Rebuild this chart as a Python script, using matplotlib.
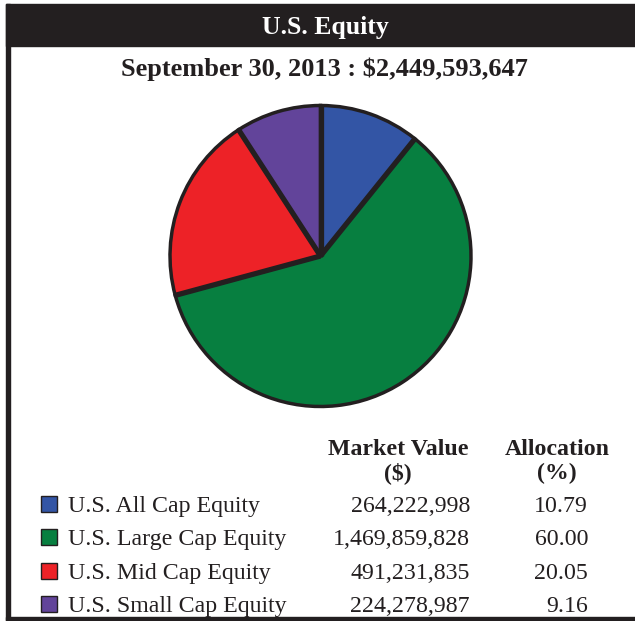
import numpy as np
import matplotlib.pyplot as plt
from matplotlib.patches import Rectangle

# data
segments = ["U.S. All Cap Equity", "U.S. Large Cap Equity",
            "U.S. Mid Cap Equity", "U.S. Small Cap Equity"]
market_values = ["264,222,998", "1,469,859,828", "491,231,835", "224,278,987"]
allocation = [10.79, 60.00, 20.05, 9.16]
colors = ["#3355a5", "#077f40", "#ed2227", "#62449a"]
title = "U.S. Equity"
subtitle = "September 30, 2013 : $2,449,593,647"

W, H = 635, 621
edge = "#231f20"
plt.rcParams["font.family"] = "Liberation Serif"

fig = plt.figure(figsize=(W / 100, H / 100), dpi=100)

# background axes in pixel coords
bg = fig.add_axes([0, 0, 1, 1])
bg.set_xlim(0, W)
bg.set_ylim(H, 0)
bg.axis("off")

# header bar + frame
bg.add_patch(Rectangle((6, 4), W - 6, 42, color=edge))
bg.add_patch(Rectangle((6, 4), 4, 617, color=edge))
bg.add_patch(Rectangle((6, 617), W - 6, 3, color=edge))
bg.text(325, 34, title, color="white", fontsize=18.5, fontweight="bold",
        ha="center", va="baseline")
bg.text(324, 76, subtitle, color=edge, fontsize=19, fontweight="bold",
        ha="center", va="baseline")

# pie
cx, cy, r = 320.5, 256, 152
ax = fig.add_axes([(cx - r) / W, (H - cy - r) / H, 2 * r / W, 2 * r / H])
wedges, _ = ax.pie(allocation, colors=colors, startangle=90, counterclock=False,
                   wedgeprops=dict(edgecolor=edge, linewidth=2.5))
# thicker dividers between slices
for w in wedges:
    t = np.deg2rad(w.theta1)
    ax.plot([0, np.cos(t)], [0, np.sin(t)], color=edge, lw=3.8,
            solid_capstyle="butt")
ax.set_xlim(-1.01, 1.01)
ax.set_ylim(-1.01, 1.01)
ax.set_aspect("equal")

# table legend
fs = 17.2
hdr = dict(fontsize=fs, fontweight="bold", ha="center", va="baseline", color=edge)
bg.text(398, 455, "Market Value", **hdr)
bg.text(398, 479, "($)", **hdr)
bg.text(557, 455, "Allocation", **hdr)
bg.text(557, 479, "(%)", **hdr)

row_y = [512, 545, 579, 612]
for y, name, mv, pct, c in zip(row_y, segments, market_values, allocation, colors):
    bg.add_patch(Rectangle((41, y - 16), 16, 16, facecolor=c, edgecolor=edge, linewidth=1))
    bg.text(68, y, name, fontsize=fs, ha="left", va="baseline", color=edge)
    bg.text(470, y, mv, fontsize=fs, ha="right", va="baseline", color=edge)
    bg.text(588, y, f"{pct:.2f}", fontsize=fs, ha="right", va="baseline", color=edge)

fig.savefig("out.png", dpi=100)
